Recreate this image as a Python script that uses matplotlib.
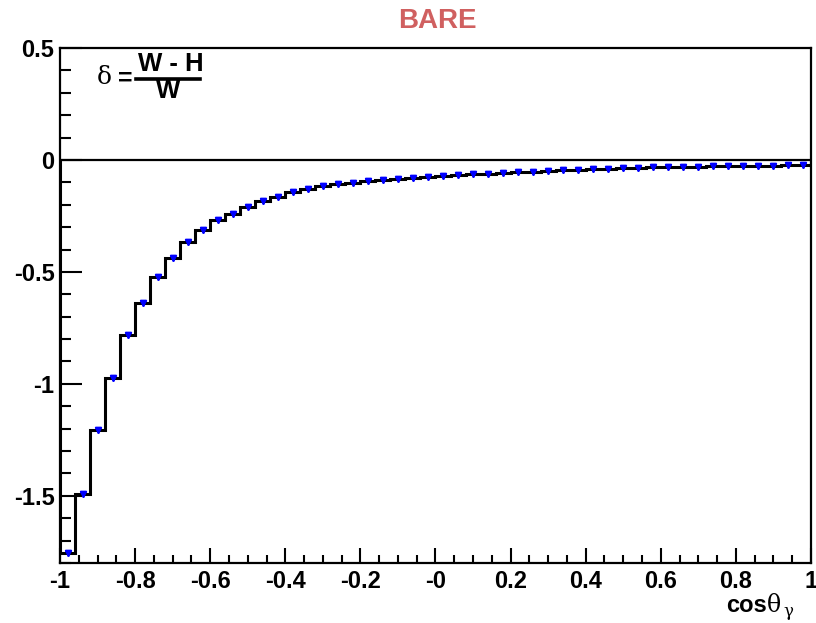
import numpy as np
import matplotlib
matplotlib.use("Agg")
import matplotlib.pyplot as plt
from matplotlib.ticker import MultipleLocator, FixedLocator

plt.rcParams['font.family'] = ['Liberation Sans', 'DejaVu Sans']

# ---- data ----
bin_edges_range = (-1.0, 1.0)
n_bins = 50
hist_values = [-1.755, -1.494, -1.205, -0.973, -0.783, -0.638, -0.522, -0.437,
               -0.365, -0.311, -0.268, -0.240, -0.209, -0.184, -0.164, -0.144,
               -0.129, -0.117, -0.108, -0.101, -0.095, -0.090, -0.085, -0.081,
               -0.077, -0.072, -0.068, -0.064, -0.061, -0.058, -0.055, -0.052,
               -0.049, -0.046, -0.043, -0.041, -0.039, -0.037, -0.035, -0.033,
               -0.032, -0.031, -0.030, -0.029, -0.028, -0.027, -0.026, -0.025,
               -0.024, -0.023]
point_values = hist_values
point_errors = [0.006] * n_bins
x_tick_values = [-1, -0.8, -0.6, -0.4, -0.2, 0, 0.2, 0.4, 0.6, 0.8, 1]
x_tick_labels = ['-1', '-0.8', '-0.6', '-0.4', '-0.2', '-0', '0.2', '0.4', '0.6', '0.8', '1']
y_tick_values = [-1.5, -1, -0.5, 0, 0.5]
y_tick_labels = ['-1.5', '-1', '-0.5', '0', '0.5']
title_text = "BARE"

W, H = 816, 623
fig = plt.figure(figsize=(W / 100, H / 100), dpi=100)
ax = fig.add_axes([60 / W, 1 - 563 / H, 751 / W, 515 / H])

edges = np.linspace(bin_edges_range[0], bin_edges_range[1], n_bins + 1)
centers = 0.5 * (edges[:-1] + edges[1:])
half_w = 0.5 * (edges[1] - edges[0])

ax.axhline(0, color='black', lw=1.6, zorder=1)
ax.errorbar(centers, point_values, xerr=half_w, yerr=point_errors, fmt='v',
            color='blue', ms=5, lw=1.2, capsize=0, zorder=2)
ax.stairs(hist_values, edges, color='black', lw=2.2, zorder=3)
ax.plot(centers, point_values, 'v', color='blue', ms=5, zorder=4)

ax.set_xlim(-1, 1)
ax.set_ylim(-1.8, 0.5)

ax.xaxis.set_major_locator(FixedLocator(x_tick_values))
ax.set_xticklabels(x_tick_labels)
ax.xaxis.set_minor_locator(MultipleLocator(0.05))
ax.yaxis.set_major_locator(FixedLocator(y_tick_values))
ax.set_yticklabels(y_tick_labels)
ax.yaxis.set_minor_locator(MultipleLocator(0.1))

ax.tick_params(axis='x', which='major', direction='in', length=11, width=1.5,
               pad=5, labelsize=17)
ax.tick_params(axis='x', which='minor', direction='in', length=5.5, width=1.5)
ax.tick_params(axis='y', which='major', direction='in', length=16, width=1.5,
               pad=4, labelsize=17)
ax.tick_params(axis='y', which='minor', direction='in', length=8, width=1.5)
for lab in ax.get_xticklabels() + ax.get_yticklabels():
    lab.set_fontweight('bold')
for s in ax.spines.values():
    s.set_linewidth(1.6)

# title
fig.text(437 / W, 1 - 21 / H, title_text, color='#d06060', fontsize=20,
         fontweight='bold', ha='center', va='center')

# x-axis label
fig.text(767 / W, 1 - 606 / H, 'cos', fontsize=17, fontweight='bold',
         ha='right', va='center')
fig.text(767 / W, 1 - 605 / H, 'θ', fontsize=17, family='DejaVu Serif',
         ha='left', va='center')
fig.text(783 / W, 1 - 612 / H, 'γ', fontsize=12, family='DejaVu Serif',
         ha='left', va='center')

# formula
fig.text(104 / W, 1 - 78 / H, 'δ', fontsize=18, family='DejaVu Serif',
         ha='center', va='center')
fig.text(125 / W, 1 - 79 / H, '=', fontsize=18, fontweight='bold',
         ha='center', va='center')
fig.text(171 / W, 1 - 64 / H, 'W - H', fontsize=18.5, fontweight='bold',
         ha='center', va='center')
fig.text(168 / W, 1 - 91 / H, 'W', fontsize=18.5, fontweight='bold',
         ha='center', va='center')
fig.add_artist(plt.Line2D([136 / W, 200 / W], [1 - 79 / H, 1 - 79 / H],
                          color='black', lw=2.6, transform=fig.transFigure))

fig.savefig('out.png', dpi=100)
